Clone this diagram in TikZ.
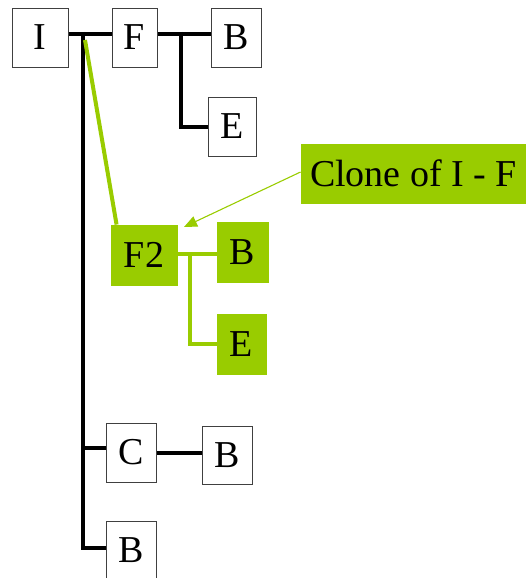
\documentclass[tikz,border=0pt]{standalone}
\usepackage{fontspec}
\setmainfont{Liberation Serif}
\usetikzlibrary{arrows.meta,backgrounds}
\definecolor{leaf}{RGB}{153,204,0}
\begin{document}
\begin{tikzpicture}[x=1pt,y=-1pt,
  box/.style={draw=black!75,line width=0.9pt,fill=white,inner sep=0pt,
    font=\fontsize{38}{40}\selectfont},
  gbox/.style={box,draw=leaf,fill=leaf},
  link/.style={line width=4pt},
  glink/.style={line width=4pt,draw=leaf},
  pointer/.style={draw=leaf,line width=1.1pt,-{Triangle[length=13pt,width=11pt]}}]
\useasboundingbox (0,0) rectangle (526,578);

% original tree
\node[box,minimum width=56pt,minimum height=59pt] (I)  at (40,37.5)    {I};
\node[box,minimum width=45pt,minimum height=59pt] (F)  at (134.5,37.5) {F};
\node[box,minimum width=50pt,minimum height=59pt] (B1) at (236,37.5)   {B};
\node[box,minimum width=48pt,minimum height=59pt] (E1) at (232,126.5)  {E};
\node[box,minimum width=50pt,minimum height=59pt] (C)  at (131,452.5)  {C};
\node[box,minimum width=50pt,minimum height=58pt] (B3) at (227,455)    {B};
\node[box,minimum width=50pt,minimum height=58pt] (B4) at (131,550)    {B};

% cloned subtree
\node[gbox,minimum width=66pt,minimum height=60pt] (F2) at (144,255)   {F2};
\node[gbox,minimum width=51pt,minimum height=60pt] (B2) at (242.5,252) {B};
\node[gbox,minimum width=49pt,minimum height=60pt] (E2) at (241.5,344) {E};
\node[gbox,minimum width=225pt,minimum height=59pt] (note) at (413.5,173.5) {Clone of I - F};

% branch points
\coordinate (j1) at (83,34);
\coordinate (j2) at (181,34);
\coordinate (j3) at (190,254);
\coordinate (g0) at (85,40);
\coordinate (tip) at (184,227);

\begin{scope}[on background layer]
  \draw[link] ([yshift=3.5pt]I.east) -- ([yshift=3.5pt]F.west);
  \draw[link] ([yshift=3.5pt]F.east) -- ([yshift=3.5pt]B1.west);
  \draw[link] ([yshift=2pt]j2) |- (E1.west);
  \draw[link] ([yshift=2pt]j1) |- ([yshift=2pt]B4.west);
  \draw[link] ([yshift=4.5pt]C.west) -- ([yshift=4.5pt,xshift=-2pt]C.west -| j1);
  \draw[link] (C.east) -- (C.east -| B3.west);
  \draw[glink] (g0) -- ([xshift=6pt]F2.north west);
  \draw[glink] ([yshift=1pt]F2.east) -- ([yshift=1pt]F2.east -| B2.west);
  \draw[glink] ([yshift=2pt]j3) |- (E2.west);
\end{scope}

\draw[pointer] ([yshift=1.5pt]note.west) -- (tip);
\end{tikzpicture}
\end{document}
